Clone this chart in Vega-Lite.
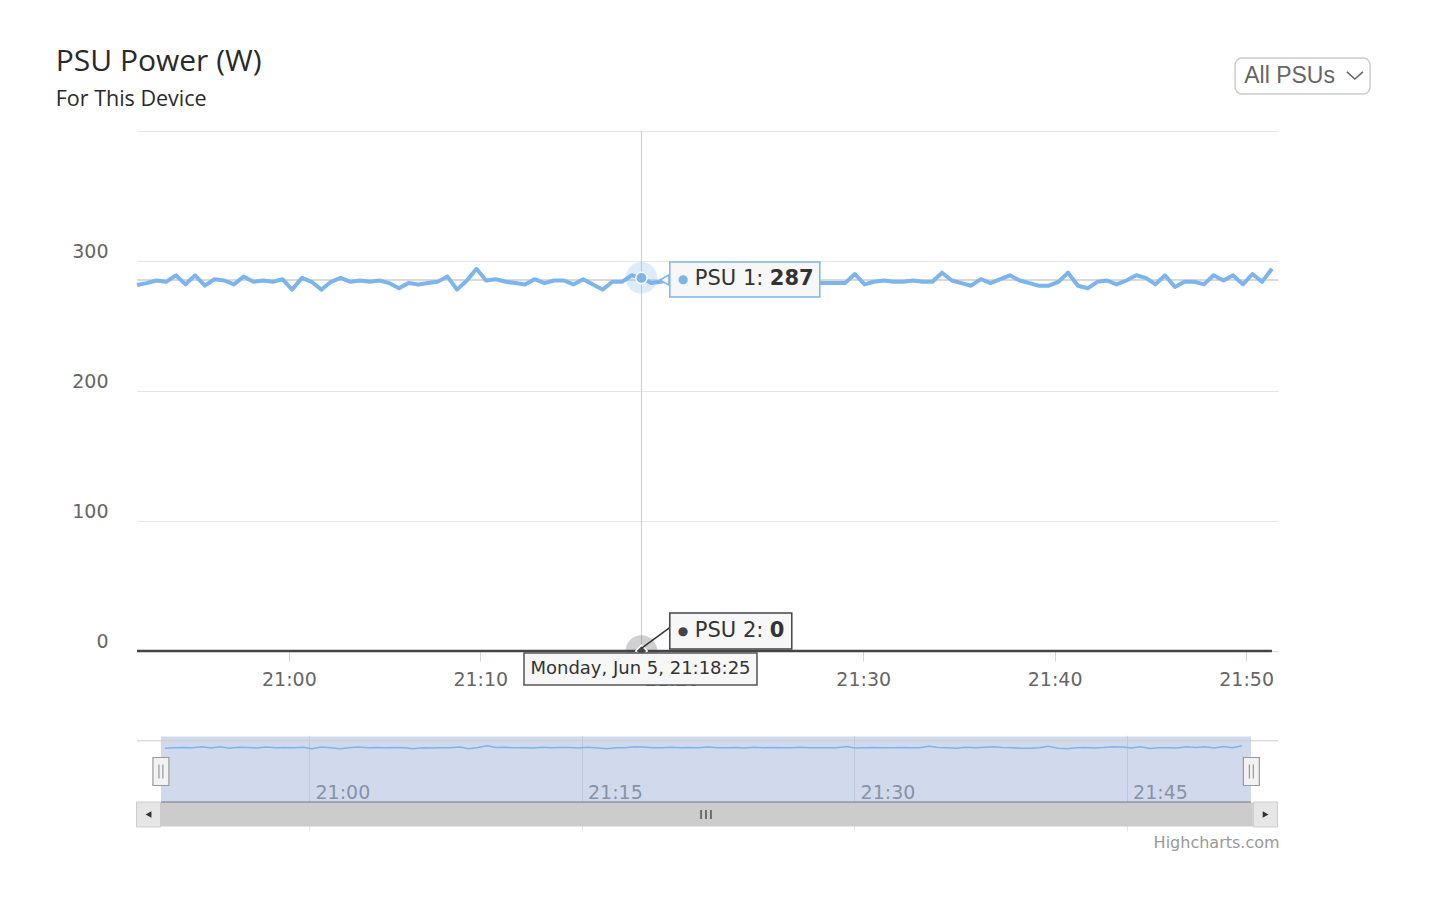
{
  "$schema": "https://vega.github.io/schema/vega-lite/v6.json",
  "background": "white",
  "padding": {"left": 55, "top": 46, "right": 20, "bottom": 10},
  "config": {"view": {"stroke": null}, "font": "DejaVu Sans"},
  "title": {
    "text": "PSU Power (W)", "subtitle": "For This Device",
    "anchor": "start", "frame": "bounds",
    "font": "Open Sans", "fontSize": 30, "fontWeight": 400, "color": "#2a2a2a",
    "subtitleFont": "Open Sans", "subtitleFontSize": 21.5, "subtitleColor": "#2a2a2a", "subtitlePadding": 12,
    "offset": -55, "dx": -16
  },
  "datasets": {
    "psu": [
      {"time": "2023-06-05T20:52:04Z", "psu1": 281.5, "psu2": 0},
      {"time": "2023-06-05T20:52:34Z", "psu1": 283, "psu2": 0},
      {"time": "2023-06-05T20:53:05Z", "psu1": 285, "psu2": 0},
      {"time": "2023-06-05T20:53:35Z", "psu1": 284, "psu2": 0},
      {"time": "2023-06-05T20:54:06Z", "psu1": 289, "psu2": 0},
      {"time": "2023-06-05T20:54:36Z", "psu1": 282, "psu2": 0},
      {"time": "2023-06-05T20:55:06Z", "psu1": 289, "psu2": 0},
      {"time": "2023-06-05T20:55:37Z", "psu1": 281, "psu2": 0},
      {"time": "2023-06-05T20:56:07Z", "psu1": 286, "psu2": 0},
      {"time": "2023-06-05T20:56:38Z", "psu1": 285, "psu2": 0},
      {"time": "2023-06-05T20:57:08Z", "psu1": 282, "psu2": 0},
      {"time": "2023-06-05T20:57:38Z", "psu1": 288, "psu2": 0},
      {"time": "2023-06-05T20:58:09Z", "psu1": 284, "psu2": 0},
      {"time": "2023-06-05T20:58:39Z", "psu1": 285, "psu2": 0},
      {"time": "2023-06-05T20:59:10Z", "psu1": 284, "psu2": 0},
      {"time": "2023-06-05T20:59:40Z", "psu1": 286, "psu2": 0},
      {"time": "2023-06-05T21:00:10Z", "psu1": 278, "psu2": 0},
      {"time": "2023-06-05T21:00:41Z", "psu1": 287, "psu2": 0},
      {"time": "2023-06-05T21:01:11Z", "psu1": 284, "psu2": 0},
      {"time": "2023-06-05T21:01:42Z", "psu1": 278, "psu2": 0},
      {"time": "2023-06-05T21:02:12Z", "psu1": 284, "psu2": 0},
      {"time": "2023-06-05T21:02:42Z", "psu1": 287, "psu2": 0},
      {"time": "2023-06-05T21:03:13Z", "psu1": 284, "psu2": 0},
      {"time": "2023-06-05T21:03:43Z", "psu1": 285, "psu2": 0},
      {"time": "2023-06-05T21:04:14Z", "psu1": 284, "psu2": 0},
      {"time": "2023-06-05T21:04:44Z", "psu1": 285, "psu2": 0},
      {"time": "2023-06-05T21:05:14Z", "psu1": 283, "psu2": 0},
      {"time": "2023-06-05T21:05:45Z", "psu1": 279, "psu2": 0},
      {"time": "2023-06-05T21:06:15Z", "psu1": 283, "psu2": 0},
      {"time": "2023-06-05T21:06:46Z", "psu1": 282, "psu2": 0},
      {"time": "2023-06-05T21:07:16Z", "psu1": 283, "psu2": 0},
      {"time": "2023-06-05T21:07:46Z", "psu1": 284, "psu2": 0},
      {"time": "2023-06-05T21:08:17Z", "psu1": 288, "psu2": 0},
      {"time": "2023-06-05T21:08:47Z", "psu1": 278, "psu2": 0},
      {"time": "2023-06-05T21:09:18Z", "psu1": 285, "psu2": 0},
      {"time": "2023-06-05T21:09:48Z", "psu1": 294, "psu2": 0},
      {"time": "2023-06-05T21:10:18Z", "psu1": 285, "psu2": 0},
      {"time": "2023-06-05T21:10:49Z", "psu1": 286, "psu2": 0},
      {"time": "2023-06-05T21:11:19Z", "psu1": 284, "psu2": 0},
      {"time": "2023-06-05T21:11:50Z", "psu1": 283, "psu2": 0},
      {"time": "2023-06-05T21:12:20Z", "psu1": 282, "psu2": 0},
      {"time": "2023-06-05T21:12:50Z", "psu1": 286, "psu2": 0},
      {"time": "2023-06-05T21:13:21Z", "psu1": 283, "psu2": 0},
      {"time": "2023-06-05T21:13:51Z", "psu1": 285, "psu2": 0},
      {"time": "2023-06-05T21:14:22Z", "psu1": 285, "psu2": 0},
      {"time": "2023-06-05T21:14:52Z", "psu1": 282, "psu2": 0},
      {"time": "2023-06-05T21:15:22Z", "psu1": 286, "psu2": 0},
      {"time": "2023-06-05T21:15:53Z", "psu1": 282, "psu2": 0},
      {"time": "2023-06-05T21:16:23Z", "psu1": 278, "psu2": 0},
      {"time": "2023-06-05T21:16:54Z", "psu1": 284, "psu2": 0},
      {"time": "2023-06-05T21:17:24Z", "psu1": 284, "psu2": 0},
      {"time": "2023-06-05T21:17:54Z", "psu1": 289, "psu2": 0},
      {"time": "2023-06-05T21:18:25Z", "psu1": 287, "psu2": 0},
      {"time": "2023-06-05T21:18:55Z", "psu1": 283, "psu2": 0},
      {"time": "2023-06-05T21:19:26Z", "psu1": 284, "psu2": 0},
      {"time": "2023-06-05T21:19:56Z", "psu1": 286, "psu2": 0},
      {"time": "2023-06-05T21:20:26Z", "psu1": 283, "psu2": 0},
      {"time": "2023-06-05T21:20:57Z", "psu1": 285, "psu2": 0},
      {"time": "2023-06-05T21:21:27Z", "psu1": 284, "psu2": 0},
      {"time": "2023-06-05T21:21:58Z", "psu1": 287, "psu2": 0},
      {"time": "2023-06-05T21:22:28Z", "psu1": 283, "psu2": 0},
      {"time": "2023-06-05T21:22:58Z", "psu1": 284, "psu2": 0},
      {"time": "2023-06-05T21:23:29Z", "psu1": 285, "psu2": 0},
      {"time": "2023-06-05T21:23:59Z", "psu1": 282, "psu2": 0},
      {"time": "2023-06-05T21:24:30Z", "psu1": 286, "psu2": 0},
      {"time": "2023-06-05T21:25:00Z", "psu1": 284, "psu2": 0},
      {"time": "2023-06-05T21:25:30Z", "psu1": 285, "psu2": 0},
      {"time": "2023-06-05T21:26:01Z", "psu1": 283, "psu2": 0},
      {"time": "2023-06-05T21:26:31Z", "psu1": 284, "psu2": 0},
      {"time": "2023-06-05T21:27:02Z", "psu1": 286, "psu2": 0},
      {"time": "2023-06-05T21:27:32Z", "psu1": 283, "psu2": 0},
      {"time": "2023-06-05T21:28:02Z", "psu1": 283, "psu2": 0},
      {"time": "2023-06-05T21:28:33Z", "psu1": 283, "psu2": 0},
      {"time": "2023-06-05T21:29:03Z", "psu1": 283, "psu2": 0},
      {"time": "2023-06-05T21:29:34Z", "psu1": 290, "psu2": 0},
      {"time": "2023-06-05T21:30:04Z", "psu1": 282, "psu2": 0},
      {"time": "2023-06-05T21:30:34Z", "psu1": 284, "psu2": 0},
      {"time": "2023-06-05T21:31:05Z", "psu1": 285, "psu2": 0},
      {"time": "2023-06-05T21:31:35Z", "psu1": 284, "psu2": 0},
      {"time": "2023-06-05T21:32:06Z", "psu1": 284, "psu2": 0},
      {"time": "2023-06-05T21:32:36Z", "psu1": 285, "psu2": 0},
      {"time": "2023-06-05T21:33:06Z", "psu1": 284, "psu2": 0},
      {"time": "2023-06-05T21:33:37Z", "psu1": 284, "psu2": 0},
      {"time": "2023-06-05T21:34:07Z", "psu1": 291, "psu2": 0},
      {"time": "2023-06-05T21:34:38Z", "psu1": 285, "psu2": 0},
      {"time": "2023-06-05T21:35:08Z", "psu1": 283, "psu2": 0},
      {"time": "2023-06-05T21:35:38Z", "psu1": 281, "psu2": 0},
      {"time": "2023-06-05T21:36:09Z", "psu1": 286, "psu2": 0},
      {"time": "2023-06-05T21:36:39Z", "psu1": 283, "psu2": 0},
      {"time": "2023-06-05T21:37:10Z", "psu1": 286, "psu2": 0},
      {"time": "2023-06-05T21:37:40Z", "psu1": 289, "psu2": 0},
      {"time": "2023-06-05T21:38:10Z", "psu1": 285, "psu2": 0},
      {"time": "2023-06-05T21:38:41Z", "psu1": 283, "psu2": 0},
      {"time": "2023-06-05T21:39:11Z", "psu1": 281, "psu2": 0},
      {"time": "2023-06-05T21:39:42Z", "psu1": 281, "psu2": 0},
      {"time": "2023-06-05T21:40:12Z", "psu1": 284, "psu2": 0},
      {"time": "2023-06-05T21:40:42Z", "psu1": 291, "psu2": 0},
      {"time": "2023-06-05T21:41:13Z", "psu1": 281, "psu2": 0},
      {"time": "2023-06-05T21:41:43Z", "psu1": 279, "psu2": 0},
      {"time": "2023-06-05T21:42:14Z", "psu1": 284, "psu2": 0},
      {"time": "2023-06-05T21:42:44Z", "psu1": 285, "psu2": 0},
      {"time": "2023-06-05T21:43:14Z", "psu1": 282, "psu2": 0},
      {"time": "2023-06-05T21:43:45Z", "psu1": 285, "psu2": 0},
      {"time": "2023-06-05T21:44:15Z", "psu1": 289, "psu2": 0},
      {"time": "2023-06-05T21:44:46Z", "psu1": 287, "psu2": 0},
      {"time": "2023-06-05T21:45:16Z", "psu1": 282, "psu2": 0},
      {"time": "2023-06-05T21:45:46Z", "psu1": 289, "psu2": 0},
      {"time": "2023-06-05T21:46:17Z", "psu1": 280, "psu2": 0},
      {"time": "2023-06-05T21:46:47Z", "psu1": 284, "psu2": 0},
      {"time": "2023-06-05T21:47:18Z", "psu1": 284, "psu2": 0},
      {"time": "2023-06-05T21:47:48Z", "psu1": 282, "psu2": 0},
      {"time": "2023-06-05T21:48:18Z", "psu1": 289, "psu2": 0},
      {"time": "2023-06-05T21:48:49Z", "psu1": 285, "psu2": 0},
      {"time": "2023-06-05T21:49:19Z", "psu1": 289, "psu2": 0},
      {"time": "2023-06-05T21:49:50Z", "psu1": 282, "psu2": 0},
      {"time": "2023-06-05T21:50:20Z", "psu1": 290, "psu2": 0},
      {"time": "2023-06-05T21:50:50Z", "psu1": 284, "psu2": 0},
      {"time": "2023-06-05T21:51:21Z", "psu1": 294, "psu2": 0}
    ],
    "hover": [
      {"time": "2023-06-05T21:18:25Z", "psu1": 287, "psu2": 0}
    ]
  },
  "spacing": 46,
  "vconcat": [
    {
      "width": 1141,
      "height": 520,
      "layer": [
        {
          "data": {"name": "psu"},
          "mark": {"type": "line", "color": "#434348", "strokeWidth": 2.5},
          "encoding": {
            "x": {"field": "time", "type": "temporal", "title": null,
              "scale": {"type": "utc", "domain": [1685998324000, 1686001900000]},
              "axis": {"title": null, "format": "%H:%M",
                "values": [1685998800000, 1685999400000, 1686000000000, 1686000600000, 1686001200000, 1686001800000],
                "grid": false, "domainColor": "#ccd6eb", "tickColor": "#ccd6eb", "tickSize": 10,
                "labelFontSize": 19, "labelColor": "#666666", "labelPadding": 9, "labelFont": "DejaVu Sans",
                "labelFlush": false, "labelOverlap": false}},
            "y": {"field": "psu2", "type": "quantitative", "title": null,
              "scale": {"domain": [0, 400]},
              "axis": {"title": null, "values": [0, 100, 200, 300, 400], "domain": false, "ticks": false,
                "grid": true, "gridColor": "#e6e6e6",
                "labelExpr": "datum.value == 400 ? '' : datum.label",
                "labelFontSize": 19, "labelColor": "#666666", "labelFont": "DejaVu Sans",
                "labelPadding": 29, "labelOffset": -10}}
          }
        },
        {
          "data": {"values": [{"value": 285.4}]},
          "mark": {"type": "rule", "color": "#cccccc", "strokeWidth": 1.5},
          "encoding": {"y": {"field": "value", "type": "quantitative", "title": null}}
        },
        {
          "data": {"name": "hover"},
          "mark": {"type": "rule", "color": "#cccccc", "strokeWidth": 1},
          "encoding": {"x": {"field": "time", "type": "temporal", "title": null}}
        },
        {
          "data": {"name": "psu"},
          "mark": {"type": "line", "color": "#7cb5ec", "strokeWidth": 4, "strokeJoin": "round"},
          "encoding": {
            "x": {"field": "time", "type": "temporal", "title": null},
            "y": {"field": "psu1", "type": "quantitative", "title": null}
          }
        },
        {
          "data": {"name": "hover"},
          "mark": {"type": "point", "filled": true, "fill": "#7cb5ec", "opacity": 0.25, "size": 1000},
          "encoding": {
            "x": {"field": "time", "type": "temporal", "title": null},
            "y": {"field": "psu1", "type": "quantitative", "title": null}
          }
        },
        {
          "data": {"name": "hover"},
          "mark": {"type": "point", "filled": true, "fill": "#434348", "opacity": 0.25, "size": 1000},
          "encoding": {
            "x": {"field": "time", "type": "temporal", "title": null},
            "y": {"field": "psu2", "type": "quantitative", "title": null}
          }
        },
        {
          "data": {"name": "hover"},
          "mark": {"type": "point", "filled": true, "fill": "#7cb5ec", "stroke": "#ffffff", "strokeWidth": 1.5, "opacity": 1, "size": 130},
          "encoding": {
            "x": {"field": "time", "type": "temporal", "title": null},
            "y": {"field": "psu1", "type": "quantitative", "title": null}
          }
        },
        {
          "data": {"name": "hover"},
          "mark": {"type": "point", "shape": "diamond", "filled": true, "fill": "#434348", "stroke": "#ffffff", "strokeWidth": 1.5, "opacity": 1, "size": 130},
          "encoding": {
            "x": {"field": "time", "type": "temporal", "title": null},
            "y": {"field": "psu2", "type": "quantitative", "title": null}
          }
        },
        {
          "data": {"values": [{"time": "2023-06-05T21:19:14Z", "value": 10.8}]},
          "mark": {"type": "point", "shape": "M1,-0.733L-1,0.733", "filled": false, "stroke": "#333333", "strokeWidth": 1.5, "opacity": 1, "size": 900},
          "encoding": {
            "x": {"field": "time", "type": "temporal", "title": null},
            "y": {"field": "value", "type": "quantitative", "title": null}
          }
        },
        {
          "data": {"values": [{"time": "2023-06-05T21:19:37Z", "value": 285.4}]},
          "mark": {"type": "point", "shape": "triangle-left", "filled": true, "fill": "#f7f7f7", "stroke": "#7cb5ec", "strokeWidth": 1.5, "opacity": 1, "size": 110},
          "encoding": {
            "x": {"field": "time", "type": "temporal", "title": null},
            "y": {"field": "value", "type": "quantitative", "title": null}
          }
        },
        {
          "data": {"values": [{"time": "2023-06-05T21:23:49Z", "value": 285.8}]},
          "mark": {"type": "point", "shape": "M-1,-0.2333H1V0.2333H-1Z", "filled": true, "fill": "#f7f7f7", "stroke": "#7cb5ec", "strokeWidth": 1.5, "opacity": 1, "size": 22500},
          "encoding": {
            "x": {"field": "time", "type": "temporal", "title": null},
            "y": {"field": "value", "type": "quantitative", "title": null}
          }
        },
        {
          "data": {"values": [{"time": "2023-06-05T21:19:54Z", "value": 286.0}]},
          "layer": [
            {"mark": {"type": "text", "text": "●", "color": "#7cb5ec", "fontSize": 12, "align": "left", "baseline": "middle", "dx": 8}},
            {"mark": {"type": "text", "text": "PSU 1: ", "color": "#333333", "fontSize": 21, "font": "DejaVu Sans", "align": "left", "baseline": "middle", "dx": 25}},
            {"mark": {"type": "text", "text": "287", "color": "#333333", "fontSize": 21, "fontWeight": "bold", "font": "DejaVu Sans", "align": "left", "baseline": "middle", "dx": 100}}
          ],
          "encoding": {
            "x": {"field": "time", "type": "temporal", "title": null},
            "y": {"field": "value", "type": "quantitative", "title": null}
          }
        },
        {
          "data": {"values": [{"time": "2023-06-05T21:23:05Z", "value": 15.4}]},
          "mark": {"type": "point", "shape": "M-1,-0.2951H1V0.2951H-1Z", "filled": true, "fill": "#f7f7f7", "stroke": "#434348", "strokeWidth": 1.5, "opacity": 1, "size": 14884},
          "encoding": {
            "x": {"field": "time", "type": "temporal", "title": null},
            "y": {"field": "value", "type": "quantitative", "title": null}
          }
        },
        {
          "data": {"values": [{"time": "2023-06-05T21:19:54Z", "value": 15.4}]},
          "layer": [
            {"mark": {"type": "text", "text": "●", "color": "#434348", "fontSize": 12, "align": "left", "baseline": "middle", "dx": 8}},
            {"mark": {"type": "text", "text": "PSU 2: ", "color": "#333333", "fontSize": 21, "font": "DejaVu Sans", "align": "left", "baseline": "middle", "dx": 25}},
            {"mark": {"type": "text", "text": "0", "color": "#333333", "fontSize": 21, "fontWeight": "bold", "font": "DejaVu Sans", "align": "left", "baseline": "middle", "dx": 100}}
          ],
          "encoding": {
            "x": {"field": "time", "type": "temporal", "title": null},
            "y": {"field": "value", "type": "quantitative", "title": null}
          }
        },
        {
          "data": {"values": [{"time": "2023-06-05T21:18:22Z", "value": -13.8}]},
          "layer": [
            {"mark": {"type": "point", "shape": "M-1,-0.1373H1V0.1373H-1Z", "filled": true, "fill": "#f7f7f7", "stroke": "#555555", "strokeWidth": 1.5, "opacity": 1, "size": 54289}},
            {"mark": {"type": "text", "text": "Monday, Jun 5, 21:18:25", "color": "#333333", "fontSize": 18, "font": "DejaVu Sans", "align": "center", "baseline": "middle"}}
          ],
          "encoding": {
            "x": {"field": "time", "type": "temporal", "title": null},
            "y": {"field": "value", "type": "quantitative", "title": null}
          }
        },
        {
          "data": {"values": [{"time": "2023-06-05T21:52:57Z", "value": 442.3}]},
          "mark": {"type": "point", "shape": "M-0.896,-0.2667H0.896A0.1037,0.1037 0 0 1 1,-0.163V0.163A0.1037,0.1037 0 0 1 0.896,0.2667H-0.896A0.1037,0.1037 0 0 1 -1,0.163V-0.163A0.1037,0.1037 0 0 1 -0.896,-0.2667Z", "filled": true, "fill": "#ffffff", "stroke": "#cccccc", "strokeWidth": 1.5, "opacity": 1, "size": 18225},
          "encoding": {
            "x": {"field": "time", "type": "temporal", "title": null},
            "y": {"field": "value", "type": "quantitative", "title": null}
          }
        },
        {
          "data": {"values": [{"time": "2023-06-05T21:49:54Z", "value": 442.3}]},
          "mark": {"type": "text", "text": "All PSUs", "color": "#666666", "fontSize": 23, "font": "Liberation Sans", "align": "left", "baseline": "middle"},
          "encoding": {
            "x": {"field": "time", "type": "temporal", "title": null},
            "y": {"field": "value", "type": "quantitative", "title": null}
          }
        },
        {
          "data": {"values": [{"time": "2023-06-05T21:55:41Z", "value": 442.7}]},
          "mark": {"type": "point", "shape": "M-1,-0.44L0,0.44L1,-0.44", "filled": false, "stroke": "#666666", "strokeWidth": 1.6, "opacity": 1, "size": 256},
          "encoding": {
            "x": {"field": "time", "type": "temporal", "title": null},
            "y": {"field": "value", "type": "quantitative", "title": null}
          }
        }
      ]
    },
    {
      "width": 1141,
      "height": 96,
      "title": {"text": "Highcharts.com", "orient": "bottom", "anchor": "end", "fontSize": 16, "fontWeight": "normal", "color": "#999999", "font": "DejaVu Sans", "offset": 4},
      "layer": [
        {
          "data": {"values": [{"time": "2023-06-05T21:21:51Z", "value": 160}]},
          "mark": {"type": "point", "shape": "M-1,-0.0642H1V0.0642H-1Z", "filled": true, "fill": "#6685c2", "opacity": 0.3, "size": 1188100},
          "encoding": {
            "x": {"field": "time", "type": "temporal", "title": null},
            "y": {"field": "value", "type": "quantitative", "title": null}
          }
        },
        {
          "data": {"name": "psu"},
          "mark": {"type": "line", "color": "#7cb5ec", "strokeWidth": 1.5},
          "encoding": {
            "x": {"field": "time", "type": "temporal", "title": null,
              "scale": {"type": "utc", "domain": [1685998232000, 1686002000000]},
              "axis": {"title": null, "format": "%H:%M",
                "values": [1685998800000, 1685999700000, 1686000600000, 1686001500000],
                "grid": true, "gridColor": "#e6e6e6", "domain": false, "ticks": false,
                "labelAlign": "left", "labelOffset": 6, "labelPadding": -48,
                "labelFontSize": 19, "labelColor": "#999999", "labelFont": "DejaVu Sans",
                "labelFlush": false, "labelOverlap": false}},
            "y": {"field": "psu1", "type": "quantitative", "title": null,
              "scale": {"domain": [-118.86, 320]}, "axis": null}
          }
        },
        {
          "data": {"values": [{"value": 320}]},
          "mark": {"type": "rule", "color": "#cccccc", "strokeWidth": 1},
          "encoding": {"y": {"field": "value", "type": "quantitative", "title": null}}
        },
        {
          "data": {"values": [{"time": "2023-06-05T21:21:51Z", "value": 0}]},
          "mark": {"type": "point", "shape": "M-1,0H1", "filled": false, "stroke": "#6f7789", "strokeWidth": 1.5, "opacity": 1, "size": 1188100},
          "encoding": {
            "x": {"field": "time", "type": "temporal", "title": null},
            "y": {"field": "value", "type": "quantitative", "title": null}
          }
        },
        {
          "data": {"values": [{"time": "2023-06-05T20:51:51Z", "value": 160}, {"time": "2023-06-05T21:51:52Z", "value": 160}]},
          "mark": {"type": "point", "shape": "M-0.57,-1H0.57V1H-0.57Z M-0.14,-0.5V0.5 M0.14,-0.5V0.5", "filled": true, "fill": "#f2f2f2", "stroke": "#999999", "strokeWidth": 1.2, "opacity": 1, "size": 784},
          "encoding": {
            "x": {"field": "time", "type": "temporal", "title": null},
            "y": {"field": "value", "type": "quantitative", "title": null}
          }
        },
        {
          "data": {"values": [{"time": "2023-06-05T21:21:54Z", "value": -64}]},
          "mark": {"type": "point", "shape": "M-1,-0.022H1V0.022H-1Z", "filled": true, "fill": "#cccccc", "opacity": 1, "size": 1192464},
          "encoding": {
            "x": {"field": "time", "type": "temporal", "title": null},
            "y": {"field": "value", "type": "quantitative", "title": null}
          }
        },
        {
          "data": {"values": [{"time": "2023-06-05T20:51:10Z", "value": -64}, {"time": "2023-06-05T21:52:39Z", "value": -64}]},
          "mark": {"type": "point", "shape": "M-1,-1.04H1V1.04H-1Z", "filled": true, "fill": "#e6e6e6", "stroke": "#cccccc", "strokeWidth": 1, "opacity": 1, "size": 576},
          "encoding": {
            "x": {"field": "time", "type": "temporal", "title": null},
            "y": {"field": "value", "type": "quantitative", "title": null}
          }
        },
        {
          "data": {"values": [{"time": "2023-06-05T20:51:10Z", "value": -64}]},
          "mark": {"type": "point", "shape": "triangle-left", "filled": true, "fill": "#333333", "opacity": 1, "size": 45},
          "encoding": {
            "x": {"field": "time", "type": "temporal", "title": null},
            "y": {"field": "value", "type": "quantitative", "title": null}
          }
        },
        {
          "data": {"values": [{"time": "2023-06-05T21:52:39Z", "value": -64}]},
          "mark": {"type": "point", "shape": "triangle-right", "filled": true, "fill": "#333333", "opacity": 1, "size": 45},
          "encoding": {
            "x": {"field": "time", "type": "temporal", "title": null},
            "y": {"field": "value", "type": "quantitative", "title": null}
          }
        },
        {
          "data": {"values": [{"time": "2023-06-05T21:21:51Z", "value": -64}]},
          "mark": {"type": "point", "shape": "M-1.1,-1V1M0,-1V1M1.1,-1V1", "filled": false, "stroke": "#333333", "strokeWidth": 1.2, "opacity": 1, "size": 81},
          "encoding": {
            "x": {"field": "time", "type": "temporal", "title": null},
            "y": {"field": "value", "type": "quantitative", "title": null}
          }
        }
      ]
    }
  ]
}
